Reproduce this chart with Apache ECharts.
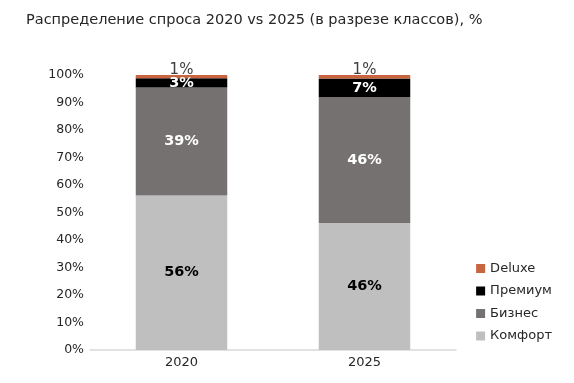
<!DOCTYPE html>
<html><head><meta charset="utf-8">
<script src="https://cdn.jsdelivr.net/npm/echarts@6/dist/echarts.min.js"></script>
<style>html,body{margin:0;padding:0;background:#fff}#c{width:574px;height:383px}</style>
</head><body><div id="c"></div>
<script>
const categories = ['2020', '2025'];
const komfort = [56.2, 46.2];
const biznes = [39.3, 45.8];
const premium = [3.3, 6.7];
const deluxe = [1.2, 1.3];
const yTicks = [0, 10, 20, 30, 40, 50, 60, 70, 80, 90, 100];

const font = 'DejaVu Sans';
const chart = echarts.init(document.getElementById('c'), null, {renderer: 'canvas'});
function lbl(color, size, bold, extra) {
  return Object.assign({
    show: true, position: 'inside', color: color, fontFamily: font,
    fontSize: size, fontWeight: bold ? 'bold' : 'normal',
    formatter: p => Math.round(p.value) + '%'
  }, extra || {});
}
chart.setOption({
  animation: false,
  title: {
    text: 'Распределение спроса 2020 vs 2025 (в разрезе классов), %',
    left: 21, top: 8,
    textStyle: {fontFamily: font, fontSize: 14.5, fontWeight: 'normal', color: '#262626'}
  },
  legend: {
    orient: 'vertical', right: 17, top: 257,
    itemWidth: 9, itemHeight: 9, itemGap: 9.5, icon: 'rect',
    data: ['Deluxe', 'Премиум', 'Бизнес', 'Комфорт'],
    textStyle: {fontFamily: font, fontSize: 13, color: '#262626'}
  },
  grid: {left: 90, right: 118, top: 75, bottom: 33, containLabel: false},
  xAxis: {
    type: 'category', data: categories,
    axisLine: {lineStyle: {color: '#d9d9d9', width: 1.5}},
    axisTick: {show: false},
    axisLabel: {fontFamily: font, fontSize: 13, color: '#262626', margin: 6}
  },
  yAxis: {
    type: 'value', min: 0, max: 100, interval: 10,
    axisLine: {show: false}, axisTick: {show: false}, splitLine: {show: false},
    axisLabel: {fontFamily: font, fontSize: 12.5, color: '#262626', formatter: '{value}%', margin: 6}
  },
  series: [
    {name: 'Комфорт', type: 'bar', stack: 's', barWidth: '50%', data: komfort,
     itemStyle: {color: '#bfbfbf'}, label: lbl('#000', 14.5, true)},
    {name: 'Бизнес', type: 'bar', stack: 's', data: biznes,
     itemStyle: {color: '#757170'}, label: lbl('#fff', 14.5, true)},
    {name: 'Премиум', type: 'bar', stack: 's', data: premium,
     itemStyle: {color: '#000'}, label: lbl('#fff', 14.5, true)},
    {name: 'Deluxe', type: 'bar', stack: 's', data: deluxe,
     itemStyle: {color: '#c8643f'}, label: lbl('#404040', 15, false, {offset: [0, -7]})}
  ]
});
</script></body></html>
